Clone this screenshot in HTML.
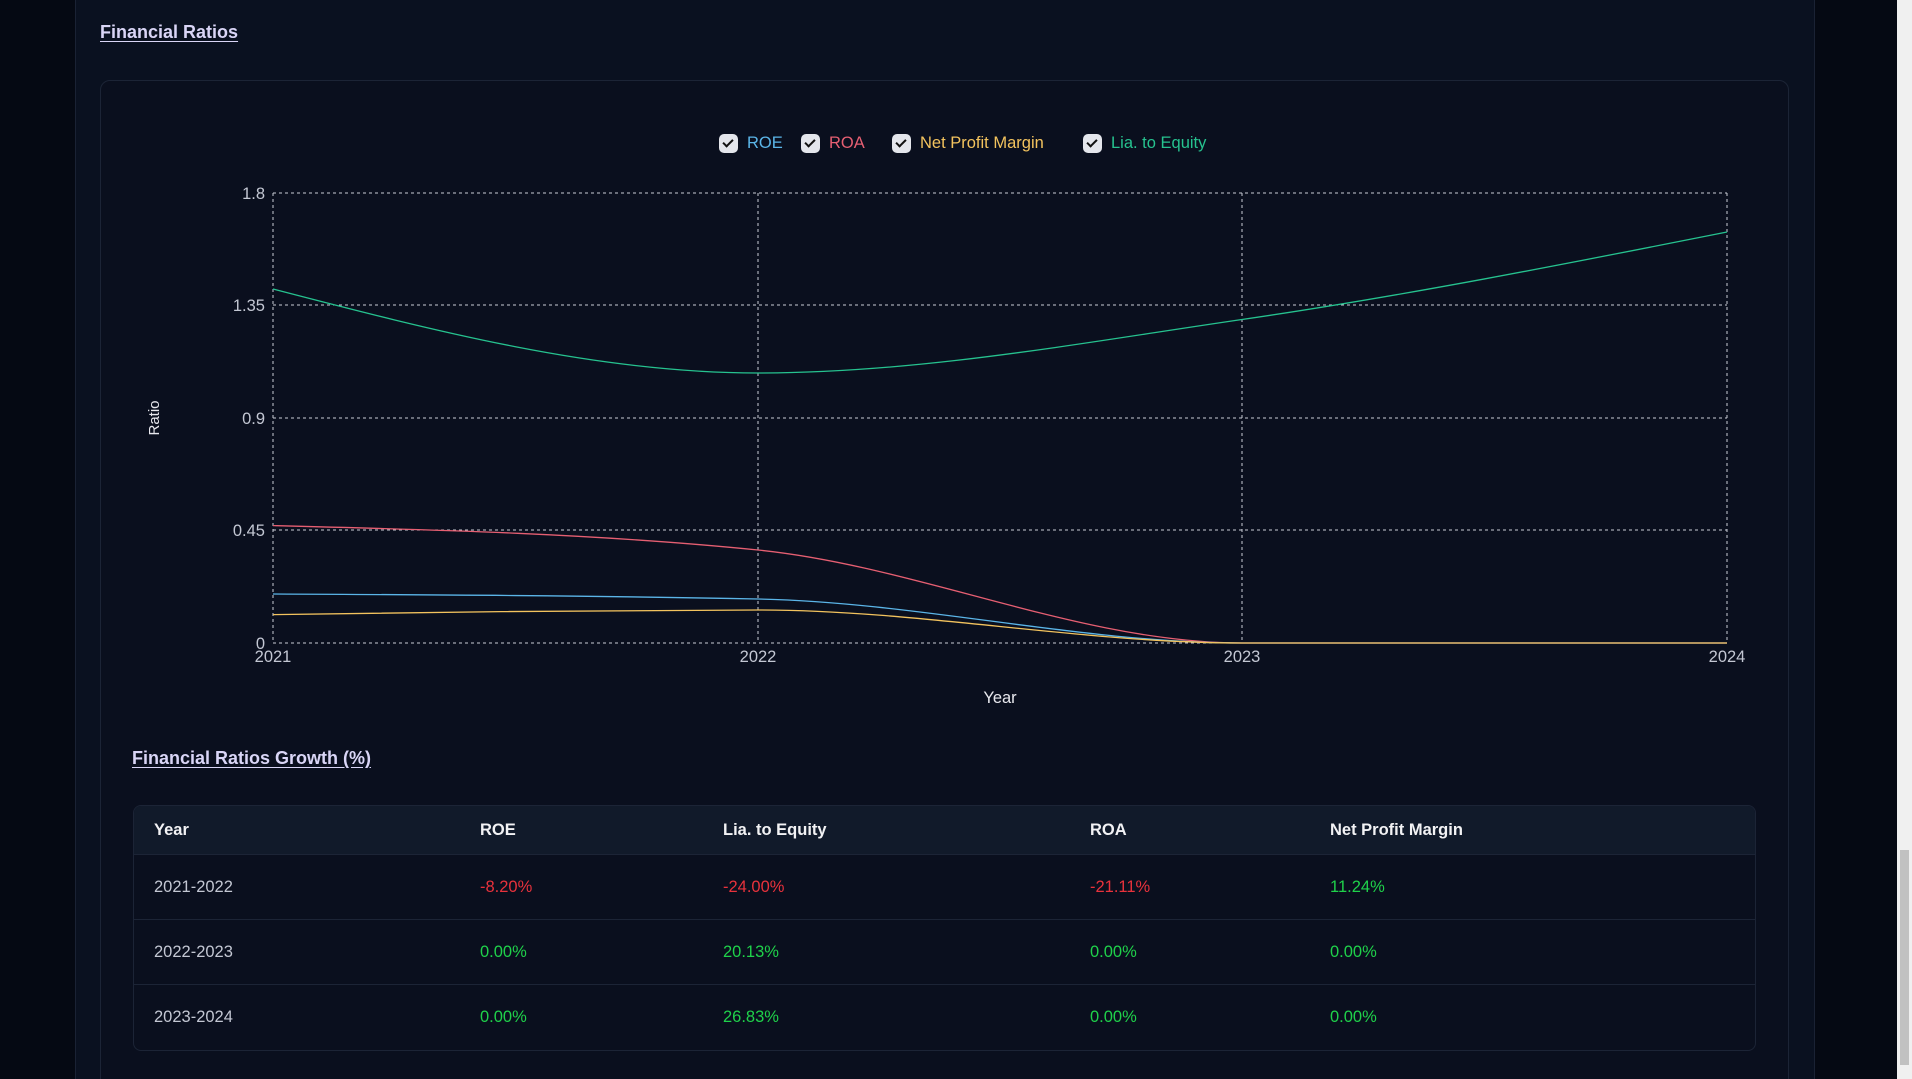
<!DOCTYPE html>
<html style="overflow:hidden;height:1079px"><head><meta charset="utf-8"><style>
*{margin:0;padding:0;box-sizing:border-box}
body{width:1912px;height:1079px;overflow:hidden;background:#050913;font-family:"Liberation Sans",sans-serif;position:relative}
.panel{position:absolute;left:75px;top:0;width:1740px;height:1079px;background:#0a1120;border-left:1px solid #1a2234;border-right:1px solid #1a2234}
.sb{position:absolute;left:1897px;top:0;width:15px;height:1079px;background:#f0f0f0}
.sb i{position:absolute;left:3px;top:850px;width:9px;height:215px;background:#c1c1c1}
.t{position:absolute;color:#d9d5f6;font-size:18px;font-weight:bold;text-decoration:underline;text-underline-offset:3px}
.card{position:absolute;left:100px;top:80px;width:1689px;height:1010px;border:1px solid #1c2436;border-radius:10px;background:#0a0f1e}
.lg{position:absolute;top:134px;font-size:16.5px;display:flex;align-items:center}
.cb{display:inline-block;width:19px;height:19px;background:#e4e6ec;border-radius:5px;margin-right:9px;position:relative}
.cb:after{content:"";position:absolute;left:6px;top:3px;width:4px;height:8px;border:solid #111;border-width:0 2px 2px 0;transform:rotate(45deg)}
table{position:absolute;left:133px;top:805px;width:1623px;border-collapse:separate;border-spacing:0;border:1px solid #1c2436;border-radius:8px;font-size:16.5px;overflow:hidden}
th{background:#111a2a;color:#f2f2f4;text-align:left;font-weight:bold;height:49px;border-bottom:1px solid #1c2436;padding-left:20px}
td{height:65px;color:#c3c7d3;padding-left:20px;border-bottom:1px solid #1c2436}
tr:last-child td{border-bottom:none}
.r{color:#e8323c}.g{color:#1fd14a}
</style></head><body>
<div class="panel"></div>
<div class="sb"><i></i></div>
<div class="t" style="left:100px;top:22px">Financial Ratios</div>
<div class="card"></div>
<div class="lg" style="left:719px;color:#5bb5e8"><span class="cb"></span>ROE</div>
<div class="lg" style="left:801px;color:#e65f72"><span class="cb"></span>ROA</div>
<div class="lg" style="left:892px;color:#f3c35e"><span class="cb"></span>Net Profit Margin</div>
<div class="lg" style="left:1083px;color:#26c28f"><span class="cb"></span>Lia. to Equity</div>
<svg width="1912" height="1079" style="position:absolute;left:0;top:0" font-family="Liberation Sans, sans-serif">
<g stroke="#c9ccd6" stroke-dasharray="3 3" stroke-width="1" fill="none">
<line x1="273" y1="193" x2="1727" y2="193"/><line x1="273" y1="305" x2="1727" y2="305"/><line x1="273" y1="418" x2="1727" y2="418"/><line x1="273" y1="530" x2="1727" y2="530"/><line x1="273" y1="643" x2="1727" y2="643"/>
<line x1="273" y1="193" x2="273" y2="643"/><line x1="758" y1="193" x2="758" y2="643"/><line x1="1242" y1="193" x2="1242" y2="643"/><line x1="1727" y1="193" x2="1727" y2="643"/>
</g>
<g fill="#c3c7d3" font-size="16.5" text-anchor="end">
<text x="265" y="199">1.8</text><text x="265" y="311">1.35</text><text x="265" y="424">0.9</text><text x="265" y="536">0.45</text><text x="265" y="649">0</text>
</g>
<g fill="#c3c7d3" font-size="16.5" text-anchor="middle">
<text x="273" y="662">2021</text><text x="758" y="662">2022</text><text x="1242" y="662">2023</text><text x="1727" y="662">2024</text>
<text x="1000" y="703" fill="#e8e8ee">Year</text>
</g>
<text transform="translate(159,418) rotate(-90)" text-anchor="middle" fill="#e8e8ee" font-size="15">Ratio</text>
<g fill="none" stroke-width="1.3">
<path stroke="#26c28f" d="M273,289 C434.6,331 596.4,373 758,373 C919.6,373 1080.4,343 1242,319.5 C1403.6,296 1565.4,264 1727,232"/>
<path stroke="#e65f72" d="M273,525.6 C434.6,529.7 596.4,533.7 758,550 C919.6,566.3 1080.4,643 1242,643 L1727,643"/>
<path stroke="#5bb5e8" d="M273,594 C434.6,594.8 596.4,595.7 758,599 C919.6,602.3 1080.4,643 1242,643 L1727,643"/>
<path stroke="#f3c35e" d="M273,614.6 C434.6,612.3 596.4,610 758,610 C919.6,610 1080.4,643 1242,643 L1727,643"/>
</g>
</svg>
<div class="t" style="left:132px;top:748px">Financial Ratios Growth (%)</div>
<table>
<tr><th style="width:326px">Year</th><th style="width:243px">ROE</th><th style="width:367px">Lia. to Equity</th><th style="width:240px">ROA</th><th>Net Profit Margin</th></tr>
<tr><td>2021-2022</td><td class="r">-8.20%</td><td class="r">-24.00%</td><td class="r">-21.11%</td><td class="g">11.24%</td></tr>
<tr><td>2022-2023</td><td class="g">0.00%</td><td class="g">20.13%</td><td class="g">0.00%</td><td class="g">0.00%</td></tr>
<tr><td>2023-2024</td><td class="g">0.00%</td><td class="g">26.83%</td><td class="g">0.00%</td><td class="g">0.00%</td></tr>
</table>
</body></html>
